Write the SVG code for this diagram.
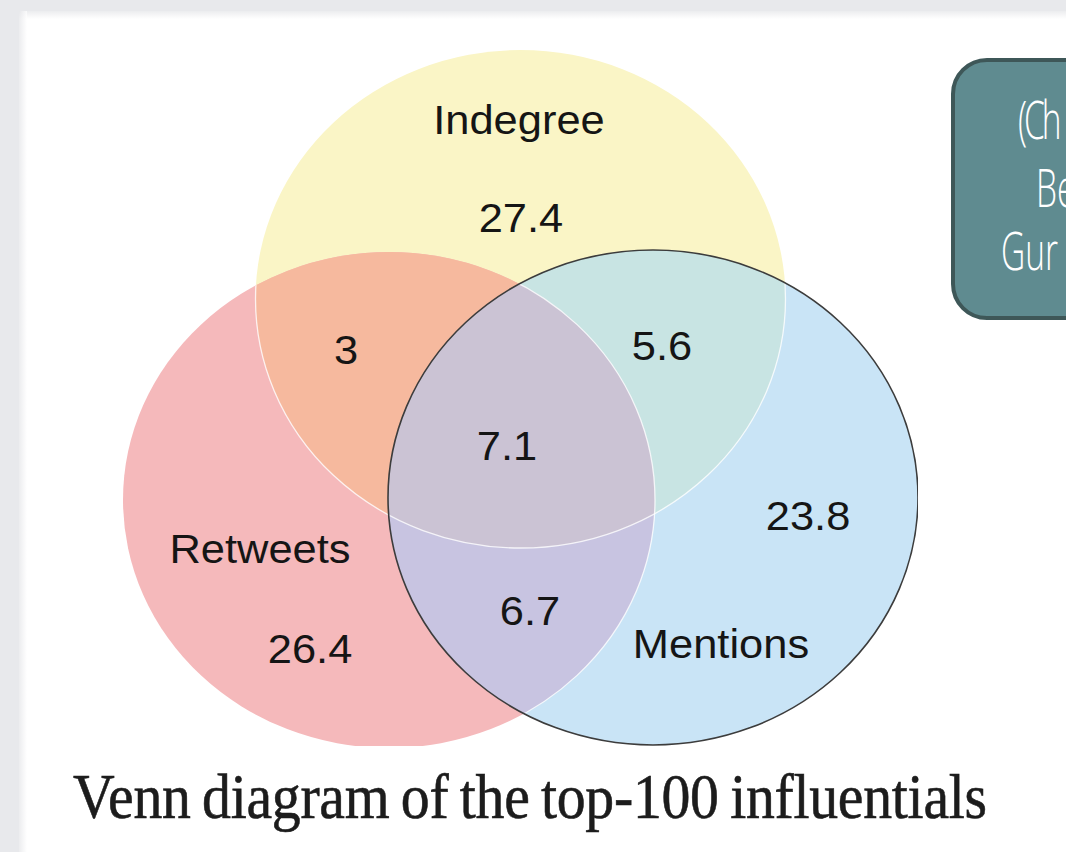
<svg xmlns="http://www.w3.org/2000/svg" width="1066" height="852" viewBox="0 0 1066 852">
<style>
.lbl{font-family:"Liberation Sans",Arial,sans-serif;font-size:41px;fill:#151515;text-anchor:middle}
.box{font-family:"Open Sans","DejaVu Sans",sans-serif;font-weight:300;font-size:54px;fill:#ffffff}
.title{font-family:"Liberation Serif","Times New Roman",serif;font-size:63px;fill:#1c1c1c;stroke:#1c1c1c;stroke-width:0.6}
</style>
<defs>
<clipPath id="clipAll"><rect x="0" y="0" width="918" height="746"/></clipPath>
<clipPath id="cR"><ellipse cx="389" cy="500" rx="266" ry="248"/></clipPath>
<clipPath id="cB"><ellipse cx="653" cy="497.5" rx="265" ry="247.5"/></clipPath>
<clipPath id="cRB"><ellipse cx="389" cy="500" rx="266" ry="248"/><ellipse cx="653" cy="497.5" rx="265" ry="247.5"/></clipPath>
<linearGradient id="shT" x1="0" y1="0" x2="0" y2="1"><stop offset="0" stop-color="#e4e5e8"/><stop offset="1" stop-color="#ffffff"/></linearGradient>
<linearGradient id="shL" x1="0" y1="0" x2="1" y2="0"><stop offset="0" stop-color="#e4e5e8"/><stop offset="1" stop-color="#ffffff"/></linearGradient>
</defs>
<rect x="0" y="0" width="1066" height="852" fill="#e8e9ec"/>
<rect x="19" y="11" width="1047" height="841" fill="#ffffff"/>
<rect x="19" y="11" width="1047" height="8" fill="url(#shT)" opacity="0.7"/>
<rect x="19" y="11" width="8" height="841" fill="url(#shL)" opacity="0.7"/>
<g id="venn" clip-path="url(#clipAll)">
<g id="indegree"><ellipse cx="520.5" cy="299" rx="265" ry="249" fill="#faf5c6"/></g>
<g id="retweets"><ellipse cx="389" cy="500" rx="266" ry="248" fill="#f5b9bb"/></g>
<g id="mentions"><ellipse cx="653" cy="497.5" rx="265" ry="247.5" fill="#c9e4f6"/></g>
<ellipse cx="520.5" cy="299" rx="265" ry="249" fill="#f6b99e" clip-path="url(#cR)"/>
<ellipse cx="520.5" cy="299" rx="265" ry="249" fill="#c8e4e3" clip-path="url(#cB)"/>
<ellipse cx="389" cy="500" rx="266" ry="248" fill="#c8c4e1" clip-path="url(#cB)"/>
<g clip-path="url(#cB)"><ellipse cx="520.5" cy="299" rx="265" ry="249" fill="#cbc3d4" clip-path="url(#cR)"/></g>
<ellipse cx="520.5" cy="299" rx="265" ry="249" fill="none" stroke="#ffffff" stroke-width="1.3" opacity="0.8" clip-path="url(#cRB)"/>
<ellipse cx="389" cy="500" rx="266" ry="248" fill="none" stroke="#ffffff" stroke-width="1.3" opacity="0.8" clip-path="url(#cB)"/>
<ellipse cx="653" cy="497.5" rx="265" ry="247.5" fill="none" stroke="#3c3c3c" stroke-width="1.6"/>
</g>
<g id="labels" transform="scale(1.06,1)">
<text class="lbl" x="489.6" y="134">Indegree</text>
<text class="lbl" x="491.5" y="232">27.4</text>
<text class="lbl" x="326.4" y="364">3</text>
<text class="lbl" x="624.5" y="360">5.6</text>
<text class="lbl" x="478.3" y="460">7.1</text>
<text class="lbl" x="762.3" y="530">23.8</text>
<text class="lbl" x="245.3" y="563">Retweets</text>
<text class="lbl" x="292.5" y="663">26.4</text>
<text class="lbl" x="500" y="625">6.7</text>
<text class="lbl" x="680.2" y="658">Mentions</text>
</g>
<g id="note">
<rect x="953" y="60" width="160" height="258" rx="34" ry="34" fill="#5f8b90" stroke="#3e5758" stroke-width="4"/>
<g transform="translate(1018,0) scale(0.62,1)"><text class="box" x="0" y="139" letter-spacing="-5">(Ch</text></g>
<g transform="translate(1036,0) scale(0.62,1)"><text class="box" x="0" y="207">Be</text></g>
<g transform="translate(1001,0) scale(0.62,1)"><text class="box" x="0" y="270">Gur</text></g>
</g>
<g transform="translate(73,818) scale(0.917,1)"><text id="title" class="title" x="0" y="0" letter-spacing="-0.3" word-spacing="-3">Venn diagram of the top-100 influentials</text></g>
</svg>
